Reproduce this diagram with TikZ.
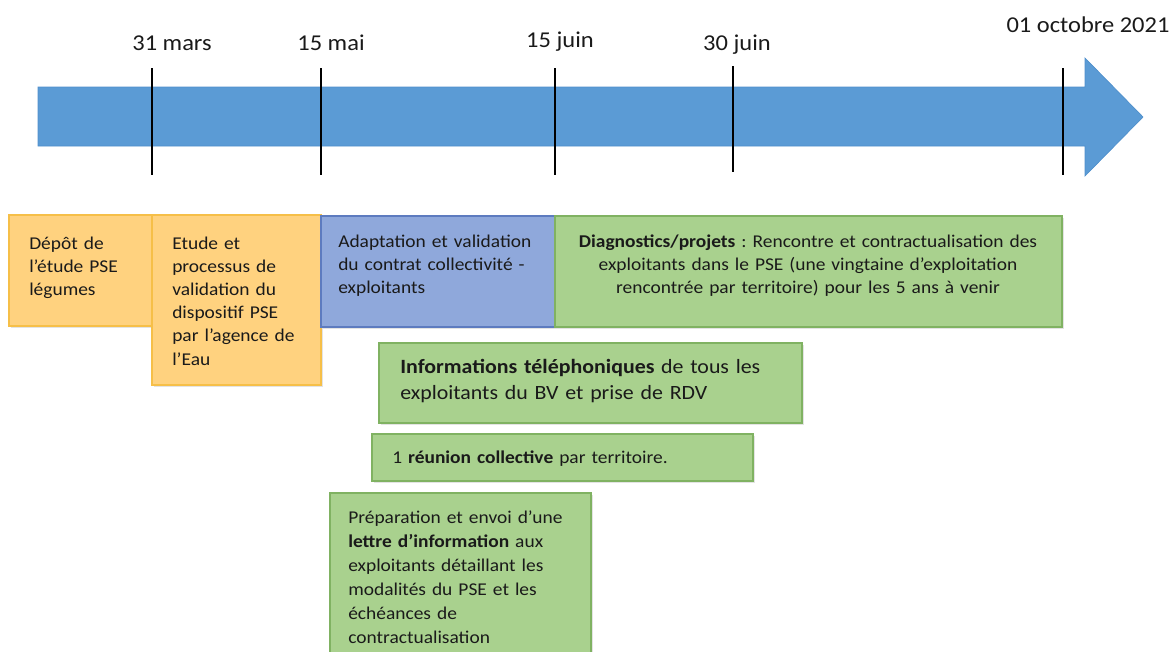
\documentclass[tikz,border=0pt]{standalone}
\usepackage{fontspec}
\setmainfont{Carlito}[FakeStretch=1.08]
\usetikzlibrary{fit,shadows}
\definecolor{arrowblue}{HTML}{5B9BD5}
\definecolor{arrowedge}{HTML}{4F8FCB}
\definecolor{ofill}{HTML}{FFD27F}
\definecolor{odraw}{HTML}{F6BF48}
\definecolor{bfill}{HTML}{8FA8DB}
\definecolor{bdraw}{HTML}{5D7BBF}
\definecolor{gfill}{HTML}{A9D18E}
\definecolor{gdraw}{HTML}{80B262}
\definecolor{textcol}{HTML}{1A1A1A}
\frenchspacing
\begin{document}
\begin{tikzpicture}[x=0.75pt,y=-0.75pt,
  box/.style={rectangle, inner sep=0pt, line width=0.9pt,
    drop shadow={opacity=0.22, shadow xshift=1.3pt, shadow yshift=-1.3pt}},
  obox/.style={box, fill=ofill, draw=odraw},
  bbox/.style={box, fill=bfill, draw=bdraw},
  gbox/.style={box, fill=gfill, draw=gdraw},
  txt/.style={inner sep=0pt, anchor=base west, align=left, text width=340pt,
    text=textcol, font=\fontsize{13.5}{17.4}\selectfont},
  datelbl/.style={inner sep=0pt, anchor=base, text=textcol,
    font=\fontsize{17}{20}\selectfont},
  tick/.style={line width=1.8pt, black}
]
\useasboundingbox (0,0) rectangle (1175,651);

% timeline arrow
\fill[arrowblue, draw=arrowedge, line width=0.5pt]
  (38,87) -- (1085,87) -- (1085,58) -- (1143,117) -- (1085,176)
  -- (1085,146) -- (38,146) -- cycle;

% ticks
\coordinate (t1a) at (152,68);  \coordinate (t1b) at (152,175);
\coordinate (t2a) at (321,68);  \coordinate (t2b) at (321,175);
\coordinate (t3a) at (555,68);  \coordinate (t3b) at (555,175);
\coordinate (t4a) at (733,66);  \coordinate (t4b) at (733,172);
\coordinate (t5a) at (1063,68); \coordinate (t5b) at (1063,175);
\draw[tick] (t1a) -- (t1b);
\draw[tick] (t2a) -- (t2b);
\draw[tick] (t3a) -- (t3b);
\draw[tick] (t4a) -- (t4b);
\draw[tick] (t5a) -- (t5b);

% date labels
\node[datelbl] (d1) at (172,50) {31 mars};
\node[datelbl] (d2) at (331,50) {15 mai};
\node[datelbl] (d3) at (560,47) {15 juin};
\node[datelbl] (d4) at (737,50) {30 juin};
\node[datelbl] (d5) at (1088,32) {01 octobre 2021};

% boxes
\node[obox, fit={(9,215) (152,326)}] (b1) {};
\node[obox, fit={(152,215) (321,385)}] (b2) {};
\node[bbox, fit={(321,216) (555,327)}] (b3) {};
\node[gbox, fit={(555,216) (1062,327)}] (b4) {};
\node[gbox, fit={(379,343) (802,423)}] (b5) {};
\node[gbox, fit={(372,434) (753,481)}] (b6) {};
\node[gbox, fit={(330,493) (591,670)}] (b7) {};

% texts
\node[txt, text width=120pt] (x1) at (29,249)
  {Dépôt de\\l’étude PSE\\légumes};
\node[txt, text width=120pt] (x2) at (172,249)
  {Etude et\\processus de\\validation du\\dispositif PSE\\par l’agence de\\l’Eau};
\node[txt, text width=170pt] (x3) at (338,247)
  {Adaptation et validation\\du contrat collectivité -\\exploitants};
\node[txt, anchor=base, align=center, text width=370pt] (x4) at (808,247)
  {\textbf{Diagnostics/projets} : Rencontre et contractualisation des\\exploitants dans le PSE (une vingtaine d’exploitation\\rencontrée par territoire) pour les 5 ans à venir};
\node[txt, text width=300pt, font=\fontsize{15.2}{20}\selectfont] (x5) at (400,373)
  {\textbf{Informations téléphoniques} de tous les\\exploitants du BV et prise de RDV};
\node[txt, text width=280pt] (x6) at (392,463)
  {1 \textbf{réunion collective} par territoire.};
\node[txt, text width=190pt, font=\fontsize{13.5}{18}\selectfont] (x7) at (348,523)
  {Préparation et envoi d’une\\\textbf{lettre d’information} aux\\exploitants détaillant les\\modalités du PSE et les\\échéances de\\contractualisation};
\end{tikzpicture}
\end{document}
